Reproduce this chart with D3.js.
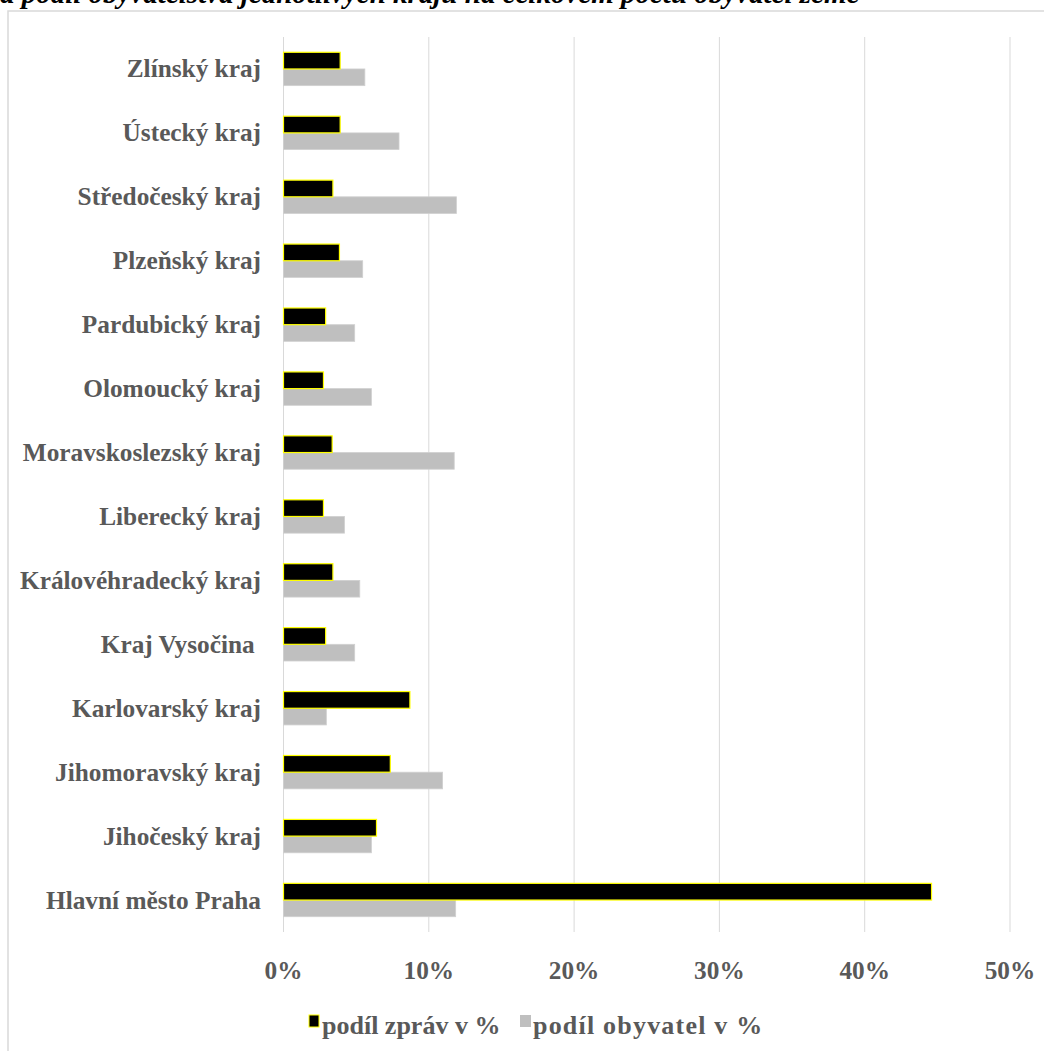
<!DOCTYPE html>
<html><head><meta charset="utf-8">
<script src="https://cdn.jsdelivr.net/npm/d3@7"></script>
<style>body{margin:0;background:#fff;overflow:hidden}svg{display:block}</style>
</head><body>
<svg id="c" width="1044" height="1051"></svg>
<script>
const title = "a podíl obyvatelstva jednotlivých krajů na celkovém počtu obyvatel země";
const categories = ["Zlínský kraj","Ústecký kraj","Středočeský kraj","Plzeňský kraj","Pardubický kraj","Olomoucký kraj","Moravskoslezský kraj","Liberecký kraj","Královéhradecký kraj","Kraj Vysočina ","Karlovarský kraj","Jihomoravský kraj","Jihočeský kraj","Hlavní město Praha"];
const seriesNames = ["podíl zpráv v %","podíl obyvatel v %"];
const zpravy = [3.9,3.9,3.4,3.85,2.9,2.75,3.35,2.75,3.4,2.9,8.7,7.35,6.4,44.6];
const obyvatel = [5.6,7.95,11.9,5.45,4.9,6.05,11.75,4.2,5.25,4.9,2.95,10.95,6.05,11.85];
const ticks = [0,10,20,30,40,50];

const svg = d3.select("#c");
const font = "'Liberation Serif','Times New Roman',serif";
const fs = 25.3;

// chart border
svg.append("rect").attr("x",8).attr("y",11).attr("width",1100).attr("height",1100)
  .attr("fill","none").attr("stroke","#d9d9d9").attr("stroke-width",1.5);

// title (clipped at top edge, as in the reference)
svg.append("text").attr("x",0).attr("y",3).text(title)
  .attr("font-family",font).attr("font-weight","bold").attr("font-style","italic")
  .attr("font-size",29).attr("fill","#000");

const x = d3.scaleLinear().domain([0,50]).range([283.5,1010]);
const y = d3.scaleBand().domain(categories).range([37,932]);
const barH = y.step()*0.261;

// gridlines
svg.append("g").selectAll("line").data(ticks).join("line")
  .attr("x1",d=>x(d)).attr("x2",d=>x(d)).attr("y1",37).attr("y2",932)
  .attr("stroke","#d9d9d9").attr("stroke-width",1);

// category axis labels
svg.append("g").selectAll("text").data(categories).join("text")
  .attr("x",261).attr("y",d=>y(d)+y.bandwidth()/2+8.5)
  .attr("text-anchor","end").attr("font-family",font).attr("font-weight","bold")
  .attr("font-size",fs).attr("fill","#595959").style("white-space","pre")
  .attr("xml:space","preserve").text(d=>d);

// value axis labels
svg.append("g").selectAll("text").data(ticks).join("text")
  .attr("x",d=>x(d)).attr("y",979).attr("text-anchor","middle")
  .attr("font-family",font).attr("font-weight","bold").attr("font-size",fs)
  .attr("fill","#595959").text(d=>d+"%");

// bars: obyvatel (gray, below)
svg.append("g").selectAll("rect").data(categories).join("rect")
  .attr("x",x(0)).attr("y",(d)=>y(d)+y.bandwidth()/2)
  .attr("width",(d,i)=>x(obyvatel[i])-x(0)).attr("height",barH)
  .attr("fill","#bfbfbf").attr("stroke","#d0d0d0").attr("stroke-width",0.8);

// bars: zpravy (black with yellow outline, above)
svg.append("g").selectAll("rect").data(categories).join("rect")
  .attr("x",x(0)).attr("y",(d)=>y(d)+y.bandwidth()/2-barH)
  .attr("width",(d,i)=>x(zpravy[i])-x(0)).attr("height",barH)
  .attr("fill","#000").attr("stroke","#ffff00").attr("stroke-width",1.2);

// legend
const lg = svg.append("g");
lg.append("rect").attr("x",309).attr("y",1015).attr("width",10).attr("height",12)
  .attr("fill","#000").attr("stroke","#ffff00").attr("stroke-width",1);
lg.append("text").attr("x",322).attr("y",1034).text(seriesNames[0])
  .attr("font-family",font).attr("font-weight","bold").attr("font-size",26).attr("fill","#595959");
lg.append("rect").attr("x",520).attr("y",1015).attr("width",11).attr("height",12)
  .attr("fill","#bfbfbf");
lg.append("text").attr("x",533).attr("y",1034).text(seriesNames[1])
  .attr("font-family",font).attr("font-weight","bold").attr("font-size",26)
  .attr("letter-spacing",1.2).attr("fill","#595959");
</script>
</body></html>
